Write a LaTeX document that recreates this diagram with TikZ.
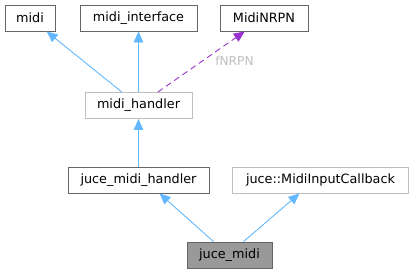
\documentclass[tikz,border=0pt]{standalone}
\usepackage{fontspec}
\setmainfont{DejaVu Sans}
\usetikzlibrary{arrows.meta}

\definecolor{edgeblue}{HTML}{63B8FF}
\definecolor{edgepurple}{HTML}{9A32CD}
\definecolor{boxdark}{HTML}{666666}
\definecolor{boxlight}{HTML}{BFBFBF}
\definecolor{boxfill}{HTML}{999999}
\definecolor{labelgray}{HTML}{BEBEBE}

\tikzset{
  cls/.style={draw=boxdark, line width=0.9pt, fill=white, inner sep=0pt,
              minimum height=26pt, font=\fontsize{12.8}{15}\selectfont, text=black},
  clslight/.style={cls, draw=boxlight},
  clscur/.style={cls, fill=boxfill},
  inherit/.style={draw=edgeblue, line width=0.9pt,
                  -{Triangle[length=11pt,width=9.5pt]}},
  usage/.style={draw=edgepurple, line width=0.9pt, dash pattern=on 6pt off 4pt,
                -{Triangle[length=11pt,width=9.5pt]}},
  edgelabel/.style={text=labelgray, font=\fontsize{12.2}{14}\selectfont, inner sep=0pt}
}

\begin{document}
\begin{tikzpicture}[x=1pt, y=-1pt]
  \useasboundingbox (0,0) rectangle (414,273);

  % base classes
  \node[cls, minimum width=50pt]  (midi)  at (30,18)    {midi};
  \node[cls, minimum width=117pt] (iface) at (138.5,18) {midi\_interface};
  \node[cls, minimum width=88pt]  (nrpn)  at (264,18)   {MidiNRPN};

  % intermediate classes
  \node[clslight, minimum width=107pt] (mh)  at (138.5,105.5) {midi\_handler};
  \node[cls, minimum width=141pt]      (jmh) at (138.5,180)   {juce\_midi\_handler};
  \node[clslight, minimum width=176pt] (mic) at (320.5,180)   {juce::MidiInputCallback};

  % the documented class
  \node[clscur, minimum width=85pt] (jm) at (229.5,255) {juce\_midi};

  % inheritance and usage relations
  \draw[inherit] (mh) -- (midi);
  \draw[inherit] (mh) -- (iface);
  \draw[usage] (mh) -- (nrpn);
  \node[edgelabel] (lbl) at (234.5,61) {fNRPN};
  \draw[inherit] (jmh) -- (mh);
  \draw[inherit] ([xshift=-16pt]jm.north) -- ([xshift=21pt]jmh.south);
  \draw[inherit] ([xshift=14pt]jm.north) -- ([xshift=-21pt]mic.south);
\end{tikzpicture}
\end{document}
